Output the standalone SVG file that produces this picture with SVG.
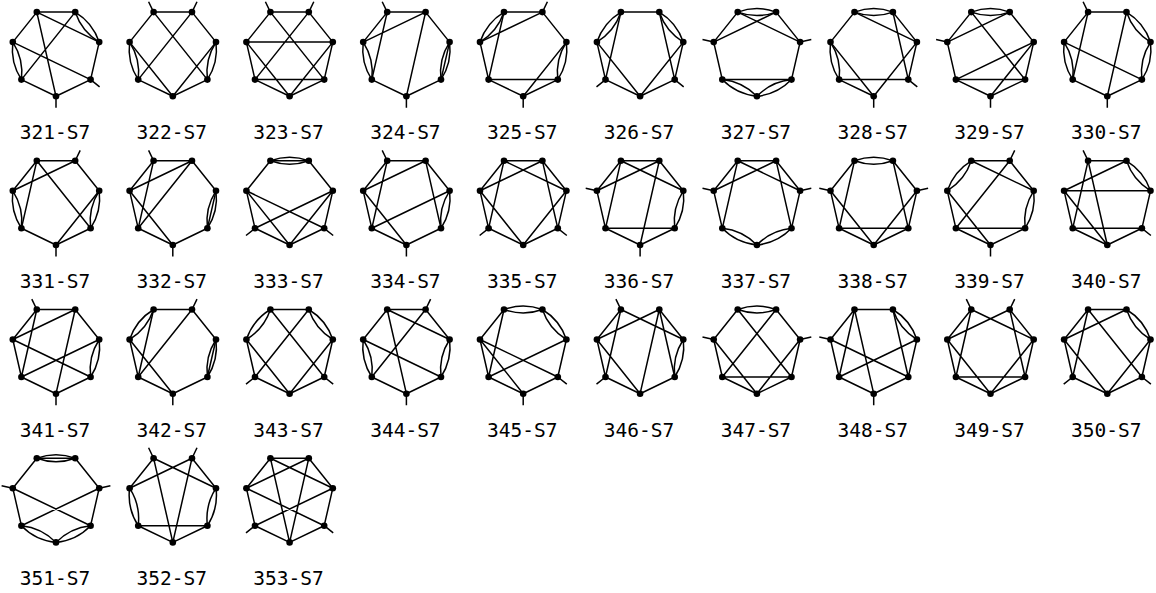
<svg xmlns="http://www.w3.org/2000/svg" xmlns:xlink="http://www.w3.org/1999/xlink" width="1156" height="593" viewBox="0 0 1156 593">
<style>
.e{fill:none;stroke:#000;stroke-width:1.5;stroke-linejoin:round;stroke-linecap:butt}
.v{fill:#000}
.t{font-family:"DejaVu Sans Mono","Liberation Mono",monospace;font-size:19.5px;fill:#000;text-anchor:middle}
</style>
<defs>
<g id="V" class="v"><circle cx="-19.2" cy="-39.9" r="3.3"/><circle cx="19.2" cy="-39.9" r="3.3"/><circle cx="43.2" cy="-9.9" r="3.3"/><circle cx="34.6" cy="27.6" r="3.3"/><circle cx="0" cy="44.3" r="3.3"/><circle cx="-34.6" cy="27.6" r="3.3"/><circle cx="-43.2" cy="-9.9" r="3.3"/></g>
<path id="d01" d="M-19.2,-39.9Q0,-46.9 19.2,-39.9Q0,-32.9 -19.2,-39.9Z"/>
<path id="d12" d="M19.2,-39.9Q36.7,-29.3 43.2,-9.9Q25.7,-20.5 19.2,-39.9Z"/>
<path id="d23" d="M43.2,-9.9Q45.7,10.4 34.6,27.6Q32.1,7.3 43.2,-9.9Z"/>
<path id="d34" d="M34.6,27.6Q20.4,42.3 0,44.3Q14.3,29.7 34.6,27.6Z"/>
<path id="d45" d="M0,44.3Q-20.4,42.3 -34.6,27.6Q-14.3,29.7 0,44.3Z"/>
<path id="d56" d="M-34.6,27.6Q-45.7,10.4 -43.2,-9.9Q-32.1,7.3 -34.6,27.6Z"/>
<path id="d60" d="M-43.2,-9.9Q-36.7,-29.3 -19.2,-39.9Q-25.7,-20.5 -43.2,-9.9Z"/>
</defs>

<g id="g321" transform="translate(56,52)"><g class="e"><path d="M-43.2,-9.9L-19.2,-39.9L19.2,-39.9 M-19.2,-39.9L0,44.3 M-19.2,-39.9L43.2,-9.9 M19.2,-39.9L-34.6,27.6 M43.2,-9.9L34.6,27.6L0,44.3L-34.6,27.6 M-43.2,-9.9L34.6,27.6L43.6,34.8 M0,44.3L0,55.8"/><use xlink:href="#d12"/><use xlink:href="#d56"/></g><use xlink:href="#V"/></g>
<g id="g322" transform="translate(172.8,52)"><g class="e"><path d="M-24.2,-50.3L-19.2,-39.9L19.2,-39.9L24.2,-50.3 M-43.2,-9.9L-19.2,-39.9L34.6,27.6L0,44.3L-34.6,27.6 M19.2,-39.9L43.2,-9.9L0,44.3L-43.2,-9.9 M19.2,-39.9L-34.6,27.6"/><use xlink:href="#d56"/><use xlink:href="#d23"/></g><use xlink:href="#V"/></g>
<g id="g323" transform="translate(289.6,52)"><g class="e"><path d="M-24.2,-50.3L-19.2,-39.9L19.2,-39.9L24.2,-50.3 M-19.2,-39.9L-43.2,-9.9L-34.6,27.6L0,44.3L34.6,27.6L43.2,-9.9L19.2,-39.9 M-19.2,-39.9L34.6,27.6 M19.2,-39.9L-34.6,27.6 M-43.2,-9.9L43.2,-9.9 M-34.6,27.6L34.6,27.6 M-43.2,-9.9L0,44.3L43.2,-9.9"/></g><use xlink:href="#V"/></g>
<g id="g324" transform="translate(406.4,52)"><g class="e"><path d="M-24.2,-50.3L-19.2,-39.9L19.2,-39.9L43.2,-9.9L34.6,27.6L0,44.3L-34.6,27.6 M-43.2,-9.9L-19.2,-39.9L-34.6,27.6 M19.2,-39.9L-43.2,-9.9 M19.2,-39.9L0,44.3L0,55.8"/><use xlink:href="#d56"/><use xlink:href="#d23"/></g><use xlink:href="#V"/></g>
<g id="g325" transform="translate(523.2,52)"><g class="e"><path d="M-19.2,-39.9L19.2,-39.9L24.2,-50.3 M19.2,-39.9L43.2,-9.9L0,44.3L0,55.8 M-19.2,-39.9L-34.6,27.6L34.6,27.6L0,44.3L-34.6,27.6L-43.2,-9.9L19.2,-39.9"/><use xlink:href="#d60"/><use xlink:href="#d23"/></g><use xlink:href="#V"/></g>
<g id="g326" transform="translate(640.1,52)"><g class="e"><path d="M-19.2,-39.9L19.2,-39.9L34.6,27.6L43.6,34.8 M-19.2,-39.9L-34.6,27.6L-43.6,34.8 M-43.2,-9.9L-34.6,27.6L0,44.3L34.6,27.6L43.2,-9.9L0,44.3L-43.2,-9.9"/><use xlink:href="#d60"/><use xlink:href="#d12"/></g><use xlink:href="#V"/></g>
<g id="g327" transform="translate(756.9,52)"><g class="e"><path d="M-54.4,-12.4L-43.2,-9.9L-19.2,-39.9L43.2,-9.9L54.4,-12.4 M-43.2,-9.9L19.2,-39.9L43.2,-9.9L34.6,27.6L-34.6,27.6L-43.2,-9.9"/><use xlink:href="#d01"/><use xlink:href="#d34"/><use xlink:href="#d45"/></g><use xlink:href="#V"/></g>
<g id="g328" transform="translate(873.7,52)"><g class="e"><path d="M-43.2,-9.9L-19.2,-39.9L43.2,-9.9L19.2,-39.9L34.6,27.6L43.6,34.8 M43.2,-9.9L34.6,27.6L-34.6,27.6L0,44.3L0,55.8 M-43.2,-9.9L0,44.3L43.2,-9.9"/><use xlink:href="#d01"/><use xlink:href="#d56"/></g><use xlink:href="#V"/></g>
<g id="g329" transform="translate(990.5,52)"><g class="e"><path d="M-54.4,-12.4L-43.2,-9.9L-19.2,-39.9L34.6,27.6 M-43.2,-9.9L19.2,-39.9L43.2,-9.9L-34.6,27.6L-43.2,-9.9 M43.2,-9.9L0,44.3L0,55.8 M43.2,-9.9L34.6,27.6L-34.6,27.6L0,44.3L34.6,27.6"/><use xlink:href="#d01"/></g><use xlink:href="#V"/></g>
<g id="g330" transform="translate(1107.3,52)"><g class="e"><path d="M-24.2,-50.3L-19.2,-39.9L19.2,-39.9L0,44.3L0,55.8 M-43.2,-9.9L-19.2,-39.9L-34.6,27.6L0,44.3L34.6,27.6L-43.2,-9.9"/><use xlink:href="#d12"/><use xlink:href="#d56"/><use xlink:href="#d23"/></g><use xlink:href="#V"/></g>

<g id="g331" transform="translate(56,200.7)"><g class="e"><path d="M-43.2,-9.9L-19.2,-39.9L19.2,-39.9L24.2,-50.3 M-34.6,27.6L-19.2,-39.9L34.6,27.6L0,44.3L-34.6,27.6 M-43.2,-9.9L19.2,-39.9L43.2,-9.9L0,44.3L0,55.8"/><use xlink:href="#d56"/><use xlink:href="#d23"/></g><use xlink:href="#V"/></g>
<g id="g332" transform="translate(172.8,200.7)"><g class="e"><path d="M-24.2,-50.3L-19.2,-39.9L19.2,-39.9L43.2,-9.9L34.6,27.6L0,44.3L-43.2,-9.9L-19.2,-39.9L-34.6,27.6L0,44.3L0,55.8 M-43.2,-9.9L19.2,-39.9L-34.6,27.6L-43.2,-9.9"/><use xlink:href="#d23"/></g><use xlink:href="#V"/></g>
<g id="g333" transform="translate(289.6,200.7)"><g class="e"><path d="M-19.2,-39.9L19.2,-39.9 M-19.2,-39.9L-43.2,-9.9L-34.6,27.6L-43.6,34.8 M19.2,-39.9L43.2,-9.9L34.6,27.6L43.6,34.8 M-43.2,-9.9L34.6,27.6L0,44.3L-34.6,27.6L43.2,-9.9L0,44.3L-43.2,-9.9"/><use xlink:href="#d01"/></g><use xlink:href="#V"/></g>
<g id="g334" transform="translate(406.4,200.7)"><g class="e"><path d="M-24.2,-50.3L-19.2,-39.9L19.2,-39.9L43.2,-9.9L-34.6,27.6L-43.2,-9.9L-19.2,-39.9L-34.6,27.6L0,44.3L34.6,27.6L19.2,-39.9L-43.2,-9.9L0,44.3L0,55.8"/><use xlink:href="#d23"/></g><use xlink:href="#V"/></g>
<g id="g335" transform="translate(523.2,200.7)"><g class="e"><path d="M-43.2,-9.9L-19.2,-39.9L19.2,-39.9L43.2,-9.9L34.6,27.6L0,44.3L-34.6,27.6L-43.2,-9.9L19.2,-39.9L34.6,27.6L43.6,34.8 M43.2,-9.9L-19.2,-39.9L-34.6,27.6L-43.6,34.8 M-43.2,-9.9L0,44.3L43.2,-9.9"/></g><use xlink:href="#V"/></g>
<g id="g336" transform="translate(640.1,200.7)"><g class="e"><path d="M-54.4,-12.4L-43.2,-9.9L-19.2,-39.9L19.2,-39.9L43.2,-9.9L-19.2,-39.9L-34.6,27.6L-43.2,-9.9L19.2,-39.9L0,44.3L0,55.8 M-34.6,27.6L34.6,27.6L0,44.3L-34.6,27.6"/><use xlink:href="#d23"/></g><use xlink:href="#V"/></g>
<g id="g337" transform="translate(756.9,200.7)"><g class="e"><path d="M-54.4,-12.4L-43.2,-9.9L-19.2,-39.9L19.2,-39.9L43.2,-9.9L54.4,-12.4 M-43.2,-9.9L19.2,-39.9L34.6,27.6L43.2,-9.9L-19.2,-39.9L-34.6,27.6L-43.2,-9.9"/><use xlink:href="#d34"/><use xlink:href="#d45"/></g><use xlink:href="#V"/></g>
<g id="g338" transform="translate(873.7,200.7)"><g class="e"><path d="M-54.4,-12.4L-43.2,-9.9L-19.2,-39.9L-34.6,27.6L-43.2,-9.9L0,44.3L43.2,-9.9L54.4,-12.4 M43.2,-9.9L19.2,-39.9L34.6,27.6L43.2,-9.9 M-34.6,27.6L34.6,27.6L0,44.3L-34.6,27.6"/><use xlink:href="#d01"/></g><use xlink:href="#V"/></g>
<g id="g339" transform="translate(990.5,200.7)"><g class="e"><path d="M24.2,-50.3L19.2,-39.9L-19.2,-39.9L43.2,-9.9L19.2,-39.9L-34.6,27.6L-43.2,-9.9L0,44.3L0,55.8 M-34.6,27.6L34.6,27.6L0,44.3L-34.6,27.6"/><use xlink:href="#d60"/><use xlink:href="#d23"/></g><use xlink:href="#V"/></g>
<g id="g340" transform="translate(1107.3,200.7)"><g class="e"><path d="M-24.2,-50.3L-19.2,-39.9L19.2,-39.9L-43.2,-9.9L43.2,-9.9L34.6,27.6L43.6,34.8 M-19.2,-39.9L-34.6,27.6L34.6,27.6L0,44.3L-34.6,27.6L-43.2,-9.9L0,44.3L-19.2,-39.9"/><use xlink:href="#d12"/></g><use xlink:href="#V"/></g>

<g id="g341" transform="translate(56,349.4)"><g class="e"><path d="M-24.2,-50.3L-19.2,-39.9L19.2,-39.9L43.2,-9.9L-34.6,27.6L-43.2,-9.9L-19.2,-39.9L-34.6,27.6L0,44.3L34.6,27.6L-43.2,-9.9L19.2,-39.9L0,44.3L0,55.8"/><use xlink:href="#d23"/></g><use xlink:href="#V"/></g>
<g id="g342" transform="translate(172.8,349.4)"><g class="e"><path d="M24.2,-50.3L19.2,-39.9L-19.2,-39.9L-34.6,27.6L19.2,-39.9L43.2,-9.9L34.6,27.6L0,44.3L-43.2,-9.9L-34.6,27.6L0,44.3L0,55.8"/><use xlink:href="#d60"/><use xlink:href="#d23"/></g><use xlink:href="#V"/></g>
<g id="g343" transform="translate(289.6,349.4)"><g class="e"><path d="M-19.2,-39.9L19.2,-39.9L-34.6,27.6L-43.6,34.8 M-19.2,-39.9L34.6,27.6L43.6,34.8 M-43.2,-9.9L-34.6,27.6L0,44.3L34.6,27.6L43.2,-9.9L0,44.3L-43.2,-9.9"/><use xlink:href="#d60"/><use xlink:href="#d12"/></g><use xlink:href="#V"/></g>
<g id="g344" transform="translate(406.4,349.4)"><g class="e"><path d="M24.2,-50.3L19.2,-39.9L-19.2,-39.9L43.2,-9.9L19.2,-39.9L-34.6,27.6L0,44.3L34.6,27.6L-43.2,-9.9L-19.2,-39.9L0,44.3L0,55.8"/><use xlink:href="#d56"/><use xlink:href="#d23"/></g><use xlink:href="#V"/></g>
<g id="g345" transform="translate(523.2,349.4)"><g class="e"><path d="M-19.2,-39.9L-43.2,-9.9L-34.6,27.6L-19.2,-39.9 M-43.2,-9.9L34.6,27.6L43.6,34.8 M-43.2,-9.9L0,44.3L0,55.8 M43.2,-9.9L34.6,27.6L0,44.3L-34.6,27.6L43.2,-9.9"/><use xlink:href="#d01"/><use xlink:href="#d12"/></g><use xlink:href="#V"/></g>
<g id="g346" transform="translate(640.1,349.4)"><g class="e"><path d="M-24.2,-50.3L-19.2,-39.9L-43.2,-9.9L19.2,-39.9L43.2,-9.9L-19.2,-39.9L-34.6,27.6L-43.6,34.8 M19.2,-39.9L34.6,27.6L0,44.3L-34.6,27.6L-43.2,-9.9L0,44.3L19.2,-39.9"/><use xlink:href="#d23"/></g><use xlink:href="#V"/></g>
<g id="g347" transform="translate(756.9,349.4)"><g class="e"><path d="M-54.4,-12.4L-43.2,-9.9L-19.2,-39.9L34.6,27.6L43.2,-9.9L54.4,-12.4 M43.2,-9.9L19.2,-39.9L-34.6,27.6L-43.2,-9.9L0,44.3L43.2,-9.9 M-34.6,27.6L34.6,27.6L0,44.3L-34.6,27.6"/><use xlink:href="#d01"/></g><use xlink:href="#V"/></g>
<g id="g348" transform="translate(873.7,349.4)"><g class="e"><path d="M-54.4,-12.4L-43.2,-9.9L-19.2,-39.9L19.2,-39.9L34.6,27.6L-43.2,-9.9L-34.6,27.6L-19.2,-39.9L0,44.3L0,55.8 M43.2,-9.9L-34.6,27.6L0,44.3L34.6,27.6L43.2,-9.9"/><use xlink:href="#d12"/></g><use xlink:href="#V"/></g>
<g id="g349" transform="translate(990.5,349.4)"><g class="e"><path d="M-24.2,-50.3L-19.2,-39.9L43.2,-9.9L34.6,27.6L19.2,-39.9L24.2,-50.3 M19.2,-39.9L-43.2,-9.9L-19.2,-39.9L-34.6,27.6L-43.2,-9.9L0,44.3L43.2,-9.9 M-34.6,27.6L34.6,27.6L0,44.3L-34.6,27.6 M19.2,-39.9L43.2,-9.9"/></g><use xlink:href="#V"/></g>
<g id="g350" transform="translate(1107.3,349.4)"><g class="e"><path d="M-34.6,27.6L-43.2,-9.9L-19.2,-39.9L19.2,-39.9L-43.2,-9.9L0,44.3L43.2,-9.9L34.6,27.6L43.6,34.8 M-43.6,34.8L-34.6,27.6L-19.2,-39.9L34.6,27.6L0,44.3L-34.6,27.6"/><use xlink:href="#d12"/></g><use xlink:href="#V"/></g>

<g id="g351" transform="translate(56,498.1)"><g class="e"><path d="M-19.2,-39.9L19.2,-39.9 M-54.4,-12.4L-43.2,-9.9L-19.2,-39.9 M54.4,-12.4L43.2,-9.9L19.2,-39.9 M-34.6,27.6L-43.2,-9.9L34.6,27.6L43.2,-9.9L-34.6,27.6"/><use xlink:href="#d01"/><use xlink:href="#d34"/><use xlink:href="#d45"/></g><use xlink:href="#V"/></g>
<g id="g352" transform="translate(172.8,498.1)"><g class="e"><path d="M-24.2,-50.3L-19.2,-39.9L-43.2,-9.9L19.2,-39.9L24.2,-50.3 M-19.2,-39.9L43.2,-9.9L19.2,-39.9L0,44.3L-19.2,-39.9 M-34.6,27.6L34.6,27.6L0,44.3L-34.6,27.6"/><use xlink:href="#d56"/><use xlink:href="#d23"/></g><use xlink:href="#V"/></g>
<g id="g353" transform="translate(289.6,498.1)"><g class="e"><path d="M-43.2,-9.9L-19.2,-39.9L19.2,-39.9L43.2,-9.9L-19.2,-39.9L0,44.3L19.2,-39.9L-43.2,-9.9L34.6,27.6L43.2,-9.9L-34.6,27.6L-43.2,-9.9 M-43.6,34.8L-34.6,27.6L0,44.3L34.6,27.6L43.6,34.8"/></g><use xlink:href="#V"/></g>

<g id="labels" class="t">
<text x="55" y="139.3">321-S7</text><text x="171.8" y="139.3">322-S7</text><text x="288.6" y="139.3">323-S7</text><text x="405.4" y="139.3">324-S7</text><text x="522.2" y="139.3">325-S7</text><text x="639.1" y="139.3">326-S7</text><text x="755.9" y="139.3">327-S7</text><text x="872.7" y="139.3">328-S7</text><text x="989.5" y="139.3">329-S7</text><text x="1106.3" y="139.3">330-S7</text>
<text x="55" y="288">331-S7</text><text x="171.8" y="288">332-S7</text><text x="288.6" y="288">333-S7</text><text x="405.4" y="288">334-S7</text><text x="522.2" y="288">335-S7</text><text x="639.1" y="288">336-S7</text><text x="755.9" y="288">337-S7</text><text x="872.7" y="288">338-S7</text><text x="989.5" y="288">339-S7</text><text x="1106.3" y="288">340-S7</text>
<text x="55" y="436.7">341-S7</text><text x="171.8" y="436.7">342-S7</text><text x="288.6" y="436.7">343-S7</text><text x="405.4" y="436.7">344-S7</text><text x="522.2" y="436.7">345-S7</text><text x="639.1" y="436.7">346-S7</text><text x="755.9" y="436.7">347-S7</text><text x="872.7" y="436.7">348-S7</text><text x="989.5" y="436.7">349-S7</text><text x="1106.3" y="436.7">350-S7</text>
<text x="55" y="585.4">351-S7</text><text x="171.8" y="585.4">352-S7</text><text x="288.6" y="585.4">353-S7</text>
</g>
</svg>
